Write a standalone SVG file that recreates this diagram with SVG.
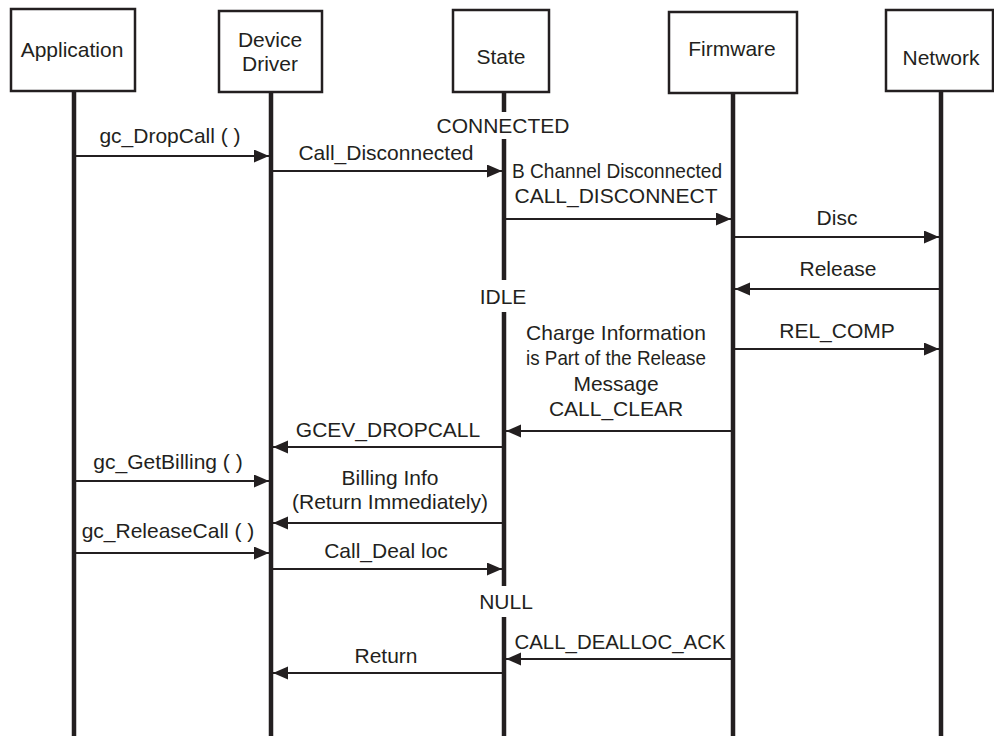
<svg xmlns="http://www.w3.org/2000/svg" width="994" height="736" viewBox="0 0 994 736">
<style>
text{font-family:"Liberation Sans",Arial,sans-serif;font-size:21px;fill:#231f20;text-anchor:middle}
.box{fill:#fff;stroke:#231f20;stroke-width:2.5}
.life{stroke:#231f20;stroke-width:4.5;fill:none}
.msg{stroke:#231f20;stroke-width:2.2;fill:none;marker-end:url(#ah)}
</style>
<defs>
<marker id="ah" markerUnits="userSpaceOnUse" markerWidth="16" markerHeight="14" refX="15" refY="6.5" orient="auto">
<path d="M0,0 L15,6.5 L0,13 z" fill="#231f20"/>
</marker>
</defs>
<rect width="994" height="736" fill="#fff"/>
<g id="application">
<rect class="box" x="11" y="9" width="124" height="82"/>
<text x="72" y="57">Application</text>
<line class="life" x1="74" y1="91" x2="74" y2="736"/>
</g>
<g id="device-driver">
<rect class="box" x="219" y="11" width="103" height="81"/>
<text x="270" y="47">Device</text>
<text x="270" y="71">Driver</text>
<line class="life" x1="271" y1="92" x2="271" y2="736"/>
</g>
<g id="state">
<rect class="box" x="453" y="10" width="96" height="82"/>
<text x="501" y="64">State</text>
<line class="life" x1="504" y1="92" x2="504" y2="112"/>
<line class="life" x1="504" y1="139" x2="504" y2="280"/>
<line class="life" x1="504" y1="312" x2="504" y2="586"/>
<line class="life" x1="504" y1="617" x2="504" y2="736"/>
<text x="503" y="133">CONNECTED</text>
<text x="503" y="304">IDLE</text>
<text x="506" y="609">NULL</text>
</g>
<g id="firmware">
<rect class="box" x="669" y="12" width="128" height="81"/>
<text x="732" y="56">Firmware</text>
<line class="life" x1="733" y1="93" x2="733" y2="736"/>
</g>
<g id="network">
<rect class="box" x="886" y="10" width="107" height="81"/>
<text x="941" y="65">Network</text>
<line class="life" x1="941" y1="91" x2="941" y2="736"/>
</g>
<g id="connectors">
<line class="msg" x1="76" y1="156" x2="269" y2="156"/>
<line class="msg" x1="273" y1="171" x2="502" y2="171"/>
<line class="msg" x1="506" y1="219" x2="731" y2="219"/>
<line class="msg" x1="735" y1="237" x2="939" y2="237"/>
<line class="msg" x1="939" y1="289" x2="735" y2="289"/>
<line class="msg" x1="735" y1="349" x2="939" y2="349"/>
<line class="msg" x1="731" y1="431" x2="506" y2="431"/>
<line class="msg" x1="502" y1="447" x2="273" y2="447"/>
<line class="msg" x1="76" y1="481" x2="269" y2="481"/>
<line class="msg" x1="502" y1="523" x2="273" y2="523"/>
<line class="msg" x1="76" y1="553" x2="269" y2="553"/>
<line class="msg" x1="273" y1="569" x2="502" y2="569"/>
<line class="msg" x1="731" y1="659" x2="506" y2="659"/>
<line class="msg" x1="502" y1="673" x2="273" y2="673"/>
</g>
<g id="labels">
<text x="170" y="143">gc_DropCall ( )</text>
<text x="386" y="160">Call_Disconnected</text>
<text x="617" y="178" textLength="210" lengthAdjust="spacingAndGlyphs">B Channel Disconnected</text>
<text x="616" y="203">CALL_DISCONNECT</text>
<text x="837" y="225">Disc</text>
<text x="838" y="276">Release</text>
<text x="837" y="338">REL_COMP</text>
<text x="616" y="340">Charge Information</text>
<text x="616" y="365" textLength="180" lengthAdjust="spacingAndGlyphs">is Part of the Release</text>
<text x="616" y="391">Message</text>
<text x="616" y="416">CALL_CLEAR</text>
<text x="388" y="437">GCEV_DROPCALL</text>
<text x="168" y="469">gc_GetBilling ( )</text>
<text x="390" y="485">Billing Info</text>
<text x="390" y="509">(Return Immediately)</text>
<text x="168" y="538">gc_ReleaseCall ( )</text>
<text x="386" y="558">Call_Deal loc</text>
<text x="620" y="649" textLength="211" lengthAdjust="spacingAndGlyphs">CALL_DEALLOC_ACK</text>
<text x="386" y="663">Return</text>
</g>
</svg>
